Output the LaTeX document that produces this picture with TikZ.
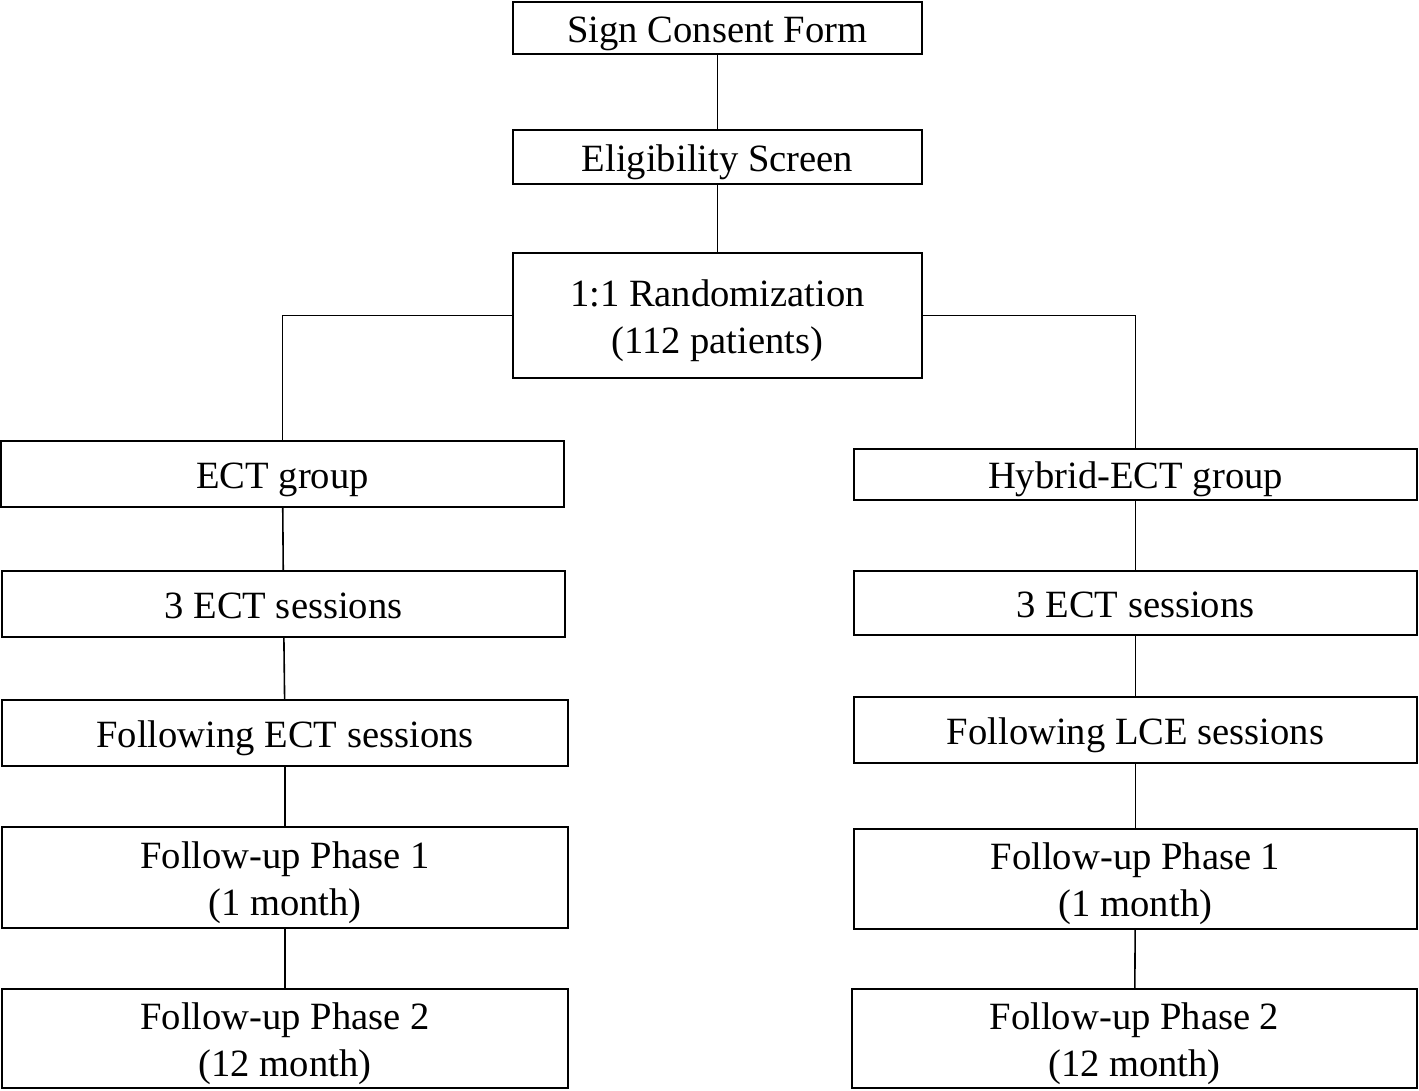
\documentclass[tikz,border=0pt]{standalone}
\usepackage{fontspec}
\setmainfont{Liberation Serif}
\newcommand{\lnstrut}{\rule[-10pt]{0pt}{48pt}}
\begin{document}
\begin{tikzpicture}[x=1pt,y=-1pt,
  box/.style={draw=black,line width=2pt,rectangle,inner sep=0pt,align=center,
    font=\fontsize{38.6}{47}\selectfont},
  link/.style={draw=black,line width=1.6pt}]
\useasboundingbox (0,0) rectangle (1419,1090);
\node[box,minimum width=409pt,minimum height=52pt] (consent) at (717.5,28) {\lnstrut Sign Consent Form};
\node[box,minimum width=409pt,minimum height=54pt] (elig) at (717.5,157) {\lnstrut Eligibility Screen};
\node[box,minimum width=409pt,minimum height=125pt] (rand) at (717.5,315.5) {\lnstrut 1:1 Randomization\\[-2pt]\lnstrut (112 patients)};
\node[box,minimum width=563pt,minimum height=66pt] (ectg) at (282.5,474) {\lnstrut ECT group};
\node[box,minimum width=563pt,minimum height=66pt] (ectL) at (283.5,604) {\lnstrut 3 ECT sessions};
\node[box,minimum width=566pt,minimum height=66pt] (follL) at (285,733) {\lnstrut Following ECT sessions};
\node[box,minimum width=566pt,minimum height=101pt] (fuoneL) at (285,877.5) {\lnstrut Follow-up Phase 1\\[-2pt]\lnstrut (1 month)};
\node[box,minimum width=566pt,minimum height=99pt] (futwoL) at (285,1038.5) {\lnstrut Follow-up Phase 2\\[-2pt]\lnstrut (12 month)};
\node[box,minimum width=563pt,minimum height=51pt] (hyb) at (1135.5,474.5) {\lnstrut Hybrid-ECT group};
\node[box,minimum width=563pt,minimum height=64pt] (ectR) at (1135.5,603) {\lnstrut 3 ECT sessions};
\node[box,minimum width=563pt,minimum height=66pt] (follR) at (1135.5,730) {\lnstrut Following LCE sessions};
\node[box,minimum width=563pt,minimum height=100pt] (fuoneR) at (1135.5,879) {\lnstrut Follow-up Phase 1\\[-2pt]\lnstrut (1 month)};
\node[box,minimum width=565pt,minimum height=99pt] (futwoR) at (1134.5,1038.5) {\lnstrut Follow-up Phase 2\\[-2pt]\lnstrut (12 month)};
\draw[link] (consent) -- (elig);
\draw[link] (elig) -- (rand);
\draw[link] (rand.west) -| (ectg.north);
\draw[link] (rand.east) -| (hyb.north);
\draw[link] (ectg) -- (ectL);
\draw[link] (ectL) -- (follL);
\draw[link] (follL) -- (fuoneL);
\draw[link] (fuoneL) -- (futwoL);
\draw[link] (hyb) -- (ectR);
\draw[link] (ectR) -- (follR);
\draw[link] (follR) -- (fuoneR);
\draw[link] (fuoneR) -- (futwoR);
\end{tikzpicture}
\end{document}
